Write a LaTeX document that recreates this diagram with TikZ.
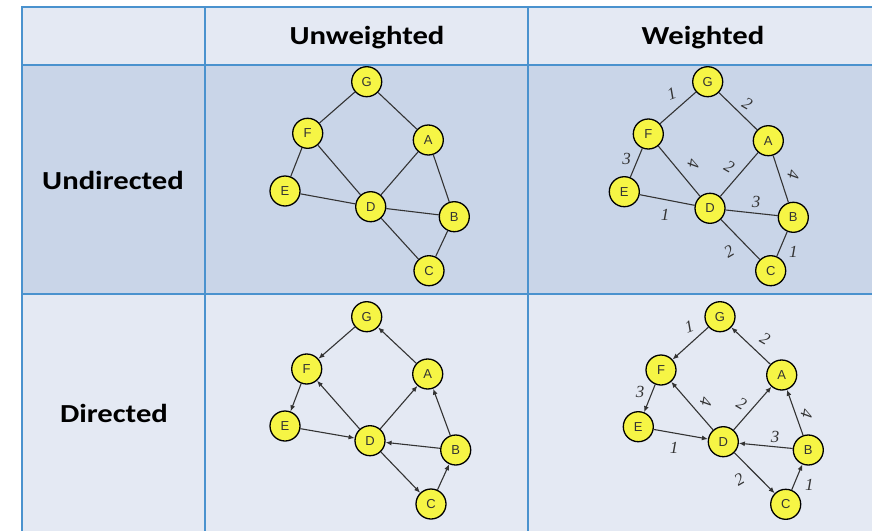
\documentclass[tikz,border=0pt]{standalone}
\usepackage{fontspec}
\setmainfont{Carlito}
\newfontfamily\headfont[FakeStretch=1.18]{Carlito}
\newfontfamily\nodefont{Liberation Sans}
\newfontfamily\weightfont{Liberation Serif}
\usetikzlibrary{arrows.meta}
\definecolor{gridblue}{HTML}{4A92CE}
\definecolor{paleband}{HTML}{E4E9F3}
\definecolor{darkband}{HTML}{C9D5E8}
\definecolor{vertexfill}{HTML}{F6F545}
\definecolor{inkgray}{HTML}{333333}
\begin{document}
\begin{tikzpicture}[x=1pt,y=-1pt,
  vertex/.style={circle,draw=black,line width=1.3pt,fill=vertexfill,minimum size=30pt,inner sep=0pt,
    font=\nodefont\fontsize{13}{13}\selectfont,text=inkgray},
  link/.style={draw=inkgray,line width=1.1pt},
  arc/.style={link,-{Latex[length=6pt,width=5pt]}},
  weight/.style={font=\weightfont\itshape\fontsize{17}{17}\selectfont,text=inkgray,inner sep=0pt},
  headtext/.style={font=\headfont\bfseries\fontsize{26}{26}\selectfont,text=black},
  cellline/.style={draw=gridblue,line width=2pt}]
\useasboundingbox (0,0) rectangle (872,530);
% table bands
\fill[paleband] (22,6.5) rectangle (880,64.5);
\fill[darkband] (22,64.5) rectangle (880,294);
\fill[paleband] (22,294) rectangle (880,540);
% grid lines
\draw[cellline] (880,6.5) -- (22,6.5) -- (22,540);
\draw[cellline] (22,64.5) -- (880,64.5);
\draw[cellline] (22,294) -- (880,294);
\draw[cellline] (205,6.5) -- (205,540);
\draw[cellline] (528,6.5) -- (528,540);
% headings
\node[headtext] (hU) at (367,38) {Unweighted};
\node[headtext] (hW) at (703,38) {Weighted};
\node[headtext] (hUd) at (113,180) {Undirected};
\node[headtext] (hD) at (114,413) {Directed};

% undirected, unweighted
\node[vertex] (uG) at (366.7,81.7) {G};
\node[vertex] (uF) at (307.7,133.3) {F};
\node[vertex] (uA) at (428.3,140) {A};
\node[vertex] (uE) at (285,191) {E};
\node[vertex] (uD) at (370.7,206.7) {D};
\node[vertex] (uB) at (454.3,216.7) {B};
\node[vertex] (uC) at (429,270.7) {C};
\draw[link] (uG) -- (uF);
\draw[link] (uG) -- (uA);
\draw[link] (uF) -- (uE);
\draw[link] (uF) -- (uD);
\draw[link] (uE) -- (uD);
\draw[link] (uD) -- (uA);
\draw[link] (uA) -- (uB);
\draw[link] (uD) -- (uB);
\draw[link] (uD) -- (uC);
\draw[link] (uB) -- (uC);

% undirected, weighted
\node[vertex] (wG) at (707.7,81.7) {G};
\node[vertex] (wF) at (648.3,134) {F};
\node[vertex] (wA) at (768.3,140.7) {A};
\node[vertex] (wE) at (624.3,191.7) {E};
\node[vertex] (wD) at (710,208.3) {D};
\node[vertex] (wB) at (793.3,217.3) {B};
\node[vertex] (wC) at (770.7,270.7) {C};
\draw[link] (wG) -- (wF);
\draw[link] (wG) -- (wA);
\draw[link] (wF) -- (wE);
\draw[link] (wF) -- (wD);
\draw[link] (wE) -- (wD);
\draw[link] (wD) -- (wA);
\draw[link] (wA) -- (wB);
\draw[link] (wD) -- (wB);
\draw[link] (wD) -- (wC);
\draw[link] (wB) -- (wC);
\node[weight,rotate=20] (wl1) at (671.7,93.3) {1};
\node[weight,rotate=-30] (wl2) at (747.3,103.3) {2};
\node[weight] (wl3) at (626.7,159.3) {3};
\node[weight,rotate=-100] (wl4) at (693.3,164) {4};
\node[weight,rotate=-30] (wl5) at (729.3,166.7) {2};
\node[weight,rotate=-100] (wl6) at (793.3,175) {4};
\node[weight] (wl7) at (665,215) {1};
\node[weight] (wl8) at (756,201.7) {3};
\node[weight,rotate=30] (wl9) at (729,251.7) {2};
\node[weight] (wl10) at (793.3,251.7) {1};

% directed, unweighted
\node[vertex] (dG) at (366.7,316.7) {G};
\node[vertex] (dF) at (306.7,369) {F};
\node[vertex] (dA) at (427.7,374) {A};
\node[vertex] (dE) at (285,426) {E};
\node[vertex] (dD) at (370,440.7) {D};
\node[vertex] (dB) at (455.7,450) {B};
\node[vertex] (dC) at (431,504) {C};
\draw[arc] (dG) -- (dF);
\draw[arc] (dA) -- (dG);
\draw[arc] (dF) -- (dE);
\draw[arc] (dD) -- (dF);
\draw[arc] (dE) -- (dD);
\draw[arc] (dD) -- (dA);
\draw[arc] (dB) -- (dA);
\draw[arc] (dB) -- (dD);
\draw[arc] (dD) -- (dC);
\draw[arc] (dC) -- (dB);

% directed, weighted
\node[vertex] (xG) at (720,316.7) {G};
\node[vertex] (xF) at (661,370) {F};
\node[vertex] (xA) at (781.7,375) {A};
\node[vertex] (xE) at (638.3,426.7) {E};
\node[vertex] (xD) at (723.3,441.7) {D};
\node[vertex] (xB) at (808.3,450) {B};
\node[vertex] (xC) at (785.7,504.3) {C};
\draw[arc] (xG) -- (xF);
\draw[arc] (xA) -- (xG);
\draw[arc] (xF) -- (xE);
\draw[arc] (xD) -- (xF);
\draw[arc] (xE) -- (xD);
\draw[arc] (xD) -- (xA);
\draw[arc] (xB) -- (xA);
\draw[arc] (xB) -- (xD);
\draw[arc] (xD) -- (xC);
\draw[arc] (xC) -- (xB);
\node[weight,rotate=20] (xl1) at (689.3,326.7) {1};
\node[weight,rotate=-30] (xl2) at (765,339) {2};
\node[weight] (xl3) at (640,391.7) {3};
\node[weight,rotate=-100] (xl4) at (706,401.7) {4};
\node[weight,rotate=-30] (xl5) at (741.7,403.3) {2};
\node[weight,rotate=-100] (xl6) at (806.7,414) {4};
\node[weight] (xl7) at (775,436.7) {3};
\node[weight] (xl8) at (674,448.3) {1};
\node[weight,rotate=30] (xl9) at (739.3,479) {2};
\node[weight] (xl10) at (809.3,485) {1};
\end{tikzpicture}
\end{document}
